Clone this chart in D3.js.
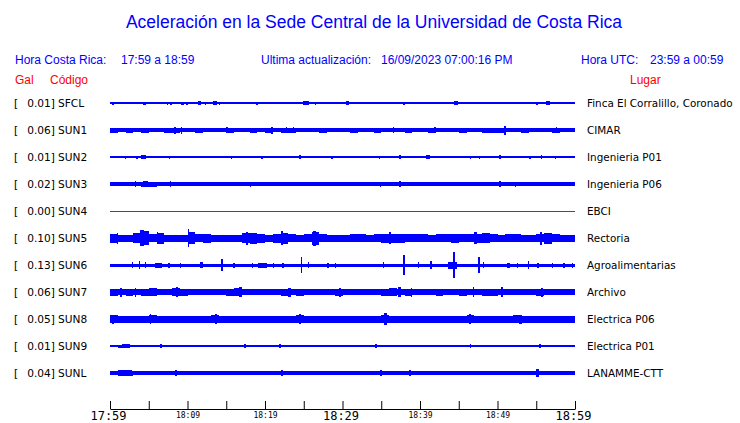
<!DOCTYPE html>
<html><head><meta charset="utf-8">
<script src="https://cdn.jsdelivr.net/npm/d3@7"></script>
<style>body{margin:0;background:#fff}svg{display:block}</style>
</head><body>
<svg id="c" width="740" height="423"></svg>
<script>
// ---------- data ----------
const codes  = ["SFCL","SUN1","SUN2","SUN3","SUN4","SUN5","SUN6","SUN7","SUN8","SUN9","SUNL"];
const galValues = ["0.01","0.06","0.01","0.02","0.00","0.10","0.13","0.06","0.05","0.01","0.04"];
const places = ["Finca El Corralillo, Coronado","CIMAR","Ingenieria P01","Ingenieria P06","EBCI","Rectoria","Agroalimentarias","Archivo","Electrica P06","Electrica P01","LANAMME-CTT"];
const traceColors = ["blue","blue","blue","blue","red","blue","blue","blue","blue","blue","blue"];

// tick minutes after 17:59 and labels
const tickMinutes = [0,5,10,15,20,25,30,35,40,45,50,55,60];
const tickLabels  = ["17:59","","18:09","","18:19","","18:29","","18:39","","18:49","","18:59"];
const majorLabels = ["17:59","18:29","18:59"];

// envelope (half amplitude, relative units) spread evenly over the hour
const envSFCL = [0.6,0.6,0.6,0.6,0.6,0.6,0.6,0.6,0.6,0.6,0.6,0.6];
const envSUN1 = [2.5,2.2,2.5,2.2,2.5,2.2,2.2,2.5,2.5,2.2,2.2,2.5,2.2,2.2,2.2,2.5,2.2,2.2,2.5,2.2,2.5,2.2,2.5,2.5,2.2,2.2,2.2,2.5,2.2,2.2,2.2,2.5,2.2,2.2,2.5,2.2,2.2,2.2,2.5,2.2,2.2,2.5,2.2,2.2,2.2,2.5,2.2,2.2,2.5,2.5,2.5,2.2,2.2,2.5,2.2,2.2,2.2,2.5,2.2,2.2];
const envSUN2 = [0.6,0.6,0.6,0.6,0.6,0.6,0.6,0.6,0.6,0.6,0.6,0.6];
const envSUN3 = [2,2,2,1.8,2.5,2.5,1.8,2,2,1.8,2,2,1.8,2,2,2,1.8,2,2,2,2,1.8,2,2,2,2,1.8,2,2,2,2,2,1.8,2,2,2,2,2.2,2,2,1.8,2,2,2,2,2,1.8,2,2,2,2.2,2,2,1.8,2,2,2,2,1.8,2];
const envSUN4 = [0.5,0.5,0.5,0.5,0.5,0.5,0.5,0.5,0.5,0.5,0.5,0.5];
const envSUN5 = [4.5,3.5,3.5,5,7,4,5.5,3.5,3.5,3.5,6,4,4.5,3.5,3.5,3.5,3.5,5,5.5,4.5,3.5,4.5,5.5,4,3.5,4,6.5,4,3.5,3.5,3.5,4,4,3.5,4,4.5,4.5,4.5,4,4,4,3.5,4,4,4.5,4,4,4.5,5,4,3.5,4,4,3.5,3.5,4,5.5,4,3.5,3.5];
const envSUN6 = [1.5,1.5,1.5,1.5,1.5,1.5,1.5,1.5,1.5,1.5,1.5,1.5];
const envSUN7 = [3.5,3,3.5,3,3.5,4,3,3,4,3.5,3,3,3,3,3,3.5,4,3,3,3,3,3,3.5,3,3.5,3,3,3,3,3.5,3,3,3,3,3,3.5,4,3,3.5,3,3,3,3.5,3,3,3.5,3,3,3.5,3.5,3,3,3,3,3,3.5,3,3,3,3];
const envSUN8 = [3.8,3.5,3.5,3.5,3.5,4,3.5,3.5,3.5,3.5,3.5,3.5,3.5,4,3.5,3.5,3.5,3.5,3.5,3.5,3.5,3.5,3.5,3.5,4,3.5,3.5,3.5,3.5,3.5,3.5,3.5,3.5,3.5,3.5,4.2,3.5,3.5,3.5,3.5,3.5,3.5,3.5,3.5,3.5,3.5,4,3.5,3.5,3.5,3.5,3.5,4,3.5,3.5,3.5,3.5,3.5,3.5,3.5];
const envSUN9 = [1.2,1.5,1.2,1,1.2,0.8,1,1.2,1,1.2,1,1,1.2,1,0.8,1,1.2,1,1,1.2,1,1,1.2,1,1,0.8,1,1,1.2,1,1,1,1.2,1,1,1.2,1,1,0.8,1,1,1.2,1,1,1,1,1.2,1,1,1,1,0.8,1,1,1.2,1,1,1,1.2,1];
const envSUNL = [2,2.5,2.5,2,2,2,2,2,2,2,2,2,2,2,2,2,2,2,2,2,2,2,2,2,2,2,2,2,2,2,2,2,2,2,2,2,2,2,2,2,2,2,2,2,2,2,2,2,2,2,2,2,2,2,2,2,2,2,2,2];

// bursts: [start minute, end minute, half amplitude]
const evSFCL = [[0.3,0.5,1.5],[2.8,2.9,1.2],[4.2,4.6,1.5],[4.8,4.9,1.2],[6.5,6.6,1.2],[7.3,7.5,1.5],[7.8,8,1.5],[8.5,8.7,1.2],[9.2,9.5,1.5],[9.8,10.1,1.5],[10.5,10.6,1.2],[11.3,11.8,1.8],[12.2,12.4,1.5],[12.5,12.6,1.2],[12.9,13.1,1.2],[13.3,13.8,1.8],[14,14.2,1.5],[18.9,19.1,1.5],[19.5,19.6,1.2],[24.9,25.7,1.8],[26.4,26.6,1.5],[29.7,29.9,1.2],[30.5,30.8,1.8],[36.9,37.1,1.2],[37.8,38,1.5],[44.4,44.9,1.8],[55,55.2,1.5],[56.2,56.8,1.8],[57.9,58.1,1.2]];
const evSUN1 = [[8.3,8.5,3.5],[9.1,9.3,3.5],[20.8,21,3.5],[22.7,22.9,3],[23.6,23.8,3],[50.9,51.1,4.5],[15,15.2,3],[36.5,36.7,3],[41.8,42,3],[57.5,57.7,3]];
const evSUN2 = [[1.9,2,1.5],[3.4,3.6,1.5],[4,4.6,1.8],[7.6,7.8,1.5],[15.6,15.8,1.5],[19.5,19.7,1.5],[24.4,24.6,1.8],[28.5,28.8,1.5],[34.7,34.9,1.5],[37.3,37.5,1.8],[40.8,41.3,1.8],[46.4,46.6,1.5],[47.6,47.8,1.5],[50.2,50.4,1.8],[54.1,54.3,1.5],[55.6,55.8,1.8],[57.4,57.6,1.5]];
const evSUN3 = [[3.2,3.4,3],[4.3,4.9,3],[7.7,7.9,3],[18,18.2,2.5],[34.8,35,2.5],[37.3,37.6,3],[50.2,50.4,3],[52.2,52.4,2.5]];
const evSUN4 = [];
const evSUN5 = [[10,10.2,9],[3.9,4.4,8],[26.2,26.6,7.5],[22,22.3,7],[17.6,17.8,6.5],[0.9,1,5.5],[6,6.2,6],[55.5,55.8,6.5],[47,47.3,6],[36,36.2,6]];
const evSUN6 = [[2.8,2.9,3],[3.7,3.8,4],[4.5,4.6,3],[5.8,6.7,2.5],[7.5,7.6,2.5],[9,9.1,2.5],[11.6,12,3],[14.3,14.6,6],[15.9,16.1,2.5],[18.3,18.5,2.5],[19.1,20.3,2.5],[21,21.1,2.5],[22.2,22.3,2.5],[24.6,24.8,8],[25.5,25.6,3],[28,28.1,2.5],[29,29.1,2.5],[35.2,35.3,3],[37.8,38,10],[39.7,39.8,3],[41.3,41.4,4],[43.6,44.8,3.5],[44.3,44.5,13],[47.5,47.6,8],[48.1,48.2,3],[51.2,51.6,2.5],[52.5,52.6,2.5],[53.9,54,4],[55.1,55.2,2.5],[57,57.1,2.5],[58.5,58.6,2.5],[59.6,59.7,2.5]];
const evSUN7 = [[8.5,8.8,5],[16.6,17,5],[23,23.3,4.5],[29.5,29.8,4.5],[37.2,37.5,5],[38.8,39,4.5],[46.8,47,5],[50.4,50.7,5],[55.6,55.9,4.5],[1.3,1.5,4.5],[3.2,3.4,4.5]];
const evSUN8 = [[35.4,35.8,6],[5.1,5.3,5],[13.5,13.8,5],[24.4,24.7,5],[46.3,46.6,5],[52.8,53.1,4.5],[0.3,0.5,4.5]];
const evSUN9 = [[1.6,2.6,1.8],[6.5,6.7,1.8],[17.3,17.5,1.8],[21.8,22,1.8],[34.2,34.5,1.8],[46.4,46.6,1.8],[55.4,55.6,1.8]];
const evSUNL = [[1,2.8,3],[8.4,8.7,3],[22,22.3,3],[34.8,35.1,3],[38.6,38.9,3],[55,55.3,4]];

const envelopes = [envSFCL,envSUN1,envSUN2,envSUN3,envSUN4,envSUN5,envSUN6,envSUN7,envSUN8,envSUN9,envSUNL];
const bursts    = [evSFCL,evSUN1,evSUN2,evSUN3,evSUN4,evSUN5,evSUN6,evSUN7,evSUN8,evSUN9,evSUNL];

// ---------- drawing ----------
const svg = d3.select("#c");
svg.append("rect").attr("width",740).attr("height",423).attr("fill","#fff");
const sans = "'Liberation Sans', Arial, Helvetica, sans-serif";
const dv = "'DejaVu Sans', sans-serif";
const mono = "'DejaVu Sans Mono', monospace";
const BLUE = "#0000ff", RED = "#ff0000";

svg.append("text").attr("x",374).attr("y",28).attr("text-anchor","middle")
  .attr("font-family",sans).attr("font-size",17.5).attr("fill",BLUE)
  .text("Aceleración en la Sede Central de la Universidad de Costa Rica");

const hdr = [
  {x:15,  t:"Hora Costa Rica:"},
  {x:121, t:"17:59 a 18:59"},
  {x:261, t:"Ultima actualización:"},
  {x:381, t:"16/09/2023 07:00:16 PM"},
  {x:581, t:"Hora UTC:"},
  {x:650, t:"23:59 a 00:59"}
];
svg.selectAll("text.hdr").data(hdr).join("text").attr("class","hdr")
  .attr("x",d=>d.x).attr("y",64).attr("font-family",sans).attr("font-size",12)
  .attr("fill",BLUE).text(d=>d.t);

const red = [{x:15,t:"Gal"},{x:50,t:"Código"},{x:630,t:"Lugar"}];
svg.selectAll("text.red").data(red).join("text").attr("class","red")
  .attr("x",d=>d.x).attr("y",84).attr("font-family",sans).attr("font-size",12)
  .attr("fill",RED).text(d=>d.t);

const t0 = new Date(2023,8,16,17,59);
const t1 = new Date(2023,8,16,18,59);
const x = d3.scaleTime().domain([t0,t1]).range([110,575]);
const xm = m => x(new Date(t0.getTime()+m*60000));
const y = d3.scalePoint().domain(codes).range([103,373]);
const amp = d3.scaleLinear().domain([0,10]).range([0,10]);

codes.forEach((code,i)=>{
  const yc = y(code);
  const g = svg.append("g");
  g.append("text").attr("x",14).attr("y",yc+4).attr("font-family",dv).attr("font-size",10.6).text("[");
  g.append("text").attr("x",55).attr("y",yc+4).attr("text-anchor","end").attr("font-family",dv).attr("font-size",10.6).text(galValues[i]+"]");
  g.append("text").attr("x",58).attr("y",yc+4).attr("font-family",dv).attr("font-size",10.6).text(code);
  g.append("text").attr("x",587).attr("y",yc+4).attr("font-family",dv).attr("font-size",10.4).text(places[i]);

  const env = envelopes[i];
  const w = 60/env.length;
  const pts = env.map((v,k)=>({m:k*w,v})); pts.push({m:60,v:env[env.length-1]});
  const area = d3.area().curve(d3.curveStepAfter)
     .x(d=>xm(d.m)).y0(d=>yc-amp(d.v)).y1(d=>yc+amp(d.v));
  g.append("path").attr("d",area(pts)).attr("fill",traceColors[i]).attr("shape-rendering","crispEdges");
  g.selectAll("rect.b").data(bursts[i]).join("rect").attr("class","b")
    .attr("x",d=>xm(d[0])).attr("width",d=>Math.max(1.5,xm(d[1])-xm(d[0])))
    .attr("y",d=>yc-amp(d[2])).attr("height",d=>2*amp(d[2]))
    .attr("fill",traceColors[i]).attr("shape-rendering","crispEdges");
});

// axis
const tickDates = tickMinutes.map(m=>new Date(t0.getTime()+m*60000));
const axis = d3.axisBottom(x).tickValues(tickDates).tickSizeInner(-8).tickSizeOuter(0)
  .tickFormat((d,i)=>tickLabels[i]);
const ag = svg.append("g").attr("transform","translate(0,409)").call(axis);
ag.select(".domain").attr("stroke","#000");
ag.selectAll(".tick line").attr("stroke","#000");
ag.selectAll(".tick text").attr("dy",null).attr("fill","#000")
  .attr("font-family",mono)
  .attr("font-size",d=>majorLabels.includes(d3.timeFormat("%H:%M")(d))?12:8)
  .attr("y",d=>majorLabels.includes(d3.timeFormat("%H:%M")(d))?11:8.5)
  .attr("dx",d=>majorLabels.includes(d3.timeFormat("%H:%M")(d))?-2:0);
</script>
</body></html>
